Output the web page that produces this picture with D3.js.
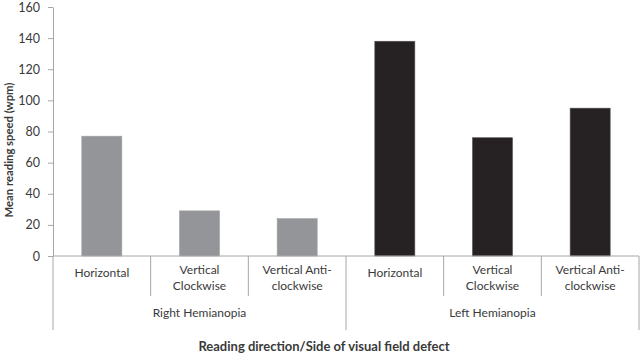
<!DOCTYPE html>
<html>
<head>
  <meta charset="utf-8">
  <title>Mean reading speed</title>
  <script src="https://d3js.org/d3.v7.min.js"></script>
  <style>
    body { margin: 0; background: #fff; }
    text { font-family: Lato, "Open Sans", sans-serif; fill: #3a3a3a; }
  </style>
</head>
<body>
  <div id="chart"></div>
<script>
  // data
  const groups = ["Right Hemianopia", "Left Hemianopia"];
  const directions = [["Horizontal"], ["Vertical", "Clockwise"], ["Vertical Anti-", "clockwise"]];
  const rightValues = [77, 29, 24];
  const leftValues = [138, 76, 95];
  const yTicks = [0, 20, 40, 60, 80, 100, 120, 140, 160];
  const groupColors = ["#939598", "#262223"];

  const margin = {top: 7, right: 1, bottom: 107, left: 53},
      width = 640 - margin.left - margin.right,
      height = 363 - margin.top - margin.bottom;

  const svg = d3.select("#chart")
    .append("svg")
      .attr("width", 640)
      .attr("height", 363)
    .append("g")
      .attr("transform", `translate(${margin.left},${margin.top})`);

  // flat list of bars
  const data = [];
  groups.forEach((g, gi) => {
    const vals = gi === 0 ? rightValues : leftValues;
    directions.forEach((d, di) => {
      data.push({group: g, gi: gi, key: g + "|" + di, label: d, value: vals[di]});
    });
  });

  const x = d3.scaleBand()
    .domain(data.map(d => d.key))
    .range([0, width])
    .padding(0);

  const xg = d3.scaleBand()
    .domain(groups)
    .range([0, width]);

  const y = d3.scaleLinear()
    .domain([0, 160])
    .range([height, 0]);

  // y axis
  const yAxis = svg.append("g")
    .call(d3.axisLeft(y).tickValues(yTicks).tickSize(5).tickSizeOuter(0).tickPadding(8));
  yAxis.select(".domain").attr("stroke", "#a6a6a6");
  yAxis.selectAll(".tick line").attr("stroke", "#a6a6a6");
  yAxis.selectAll(".tick text")
    .attr("font-size", 12.5)
    .attr("font-family", "Lato, sans-serif")
    .attr("fill", "#3a3a3a");

  // bars
  const barW = x.bandwidth() * 0.41;
  svg.selectAll(".bar")
    .data(data)
    .enter()
    .append("rect")
    .attr("class", "bar")
    .attr("x", d => x(d.key) + (x.bandwidth() - barW) / 2)
    .attr("y", d => y(d.value))
    .attr("width", barW)
    .attr("height", d => y(0) - y(d.value))
    .attr("fill", d => groupColors[d.gi])
    .attr("stroke", d => d.gi === 0 ? "#a0a1a4" : "#555")
    .attr("stroke-width", 0.6);

  // x axis line
  svg.append("line")
    .attr("x1", 0).attr("x2", width)
    .attr("y1", y(0)).attr("y2", y(0))
    .attr("stroke", "#a6a6a6");

  // category separators
  data.forEach((d, i) => {
    if (i % 3 === 0) return;
    svg.append("line")
      .attr("x1", x(d.key)).attr("x2", x(d.key))
      .attr("y1", y(0)).attr("y2", y(0) + 40)
      .attr("stroke", "#a6a6a6");
  });
  // group separators
  groups.concat(["end"]).forEach((g, i) => {
    const gx = i < groups.length ? xg(g) : width;
    svg.append("line")
      .attr("x1", gx).attr("x2", gx)
      .attr("y1", y(0)).attr("y2", y(0) + 74)
      .attr("stroke", "#a6a6a6");
  });

  // category labels
  const catLabels = svg.selectAll(".cat")
    .data(data)
    .enter()
    .append("text")
    .attr("class", "cat")
    .attr("text-anchor", "middle")
    .attr("font-size", 12)
    .attr("transform", d => `translate(${x(d.key) + x.bandwidth() / 2},${y(0) + 21})`);
  catLabels.selectAll("tspan")
    .data(d => d.label)
    .enter()
    .append("tspan")
    .attr("x", 0)
    .attr("dy", (t, i) => i === 0 ? (t === "Horizontal" ? 0 : -3) : 16)
    .text(t => t);

  // group labels
  svg.selectAll(".grp")
    .data(groups)
    .enter()
    .append("text")
    .attr("class", "grp")
    .attr("text-anchor", "middle")
    .attr("font-size", 12)
    .attr("x", g => xg(g) + xg.bandwidth() / 2)
    .attr("y", y(0) + 61)
    .text(g => g);

  // axis titles
  svg.append("text")
    .attr("text-anchor", "middle")
    .attr("font-size", 13)
    .attr("font-weight", "bold")
    .attr("fill", "#222")
    .attr("x", width / 2 - 22)
    .attr("y", 351 - margin.top)
    .text("Reading direction/Side of visual field defect");

  svg.append("text")
    .attr("text-anchor", "middle")
    .attr("font-size", 11.3)
    .attr("font-weight", "bold")
    .attr("fill", "#222")
    .attr("transform", `translate(${13 - margin.left},${150 - margin.top}) rotate(-90)`)
    .text("Mean reading speed (wpm)");
</script>
</body>
</html>
